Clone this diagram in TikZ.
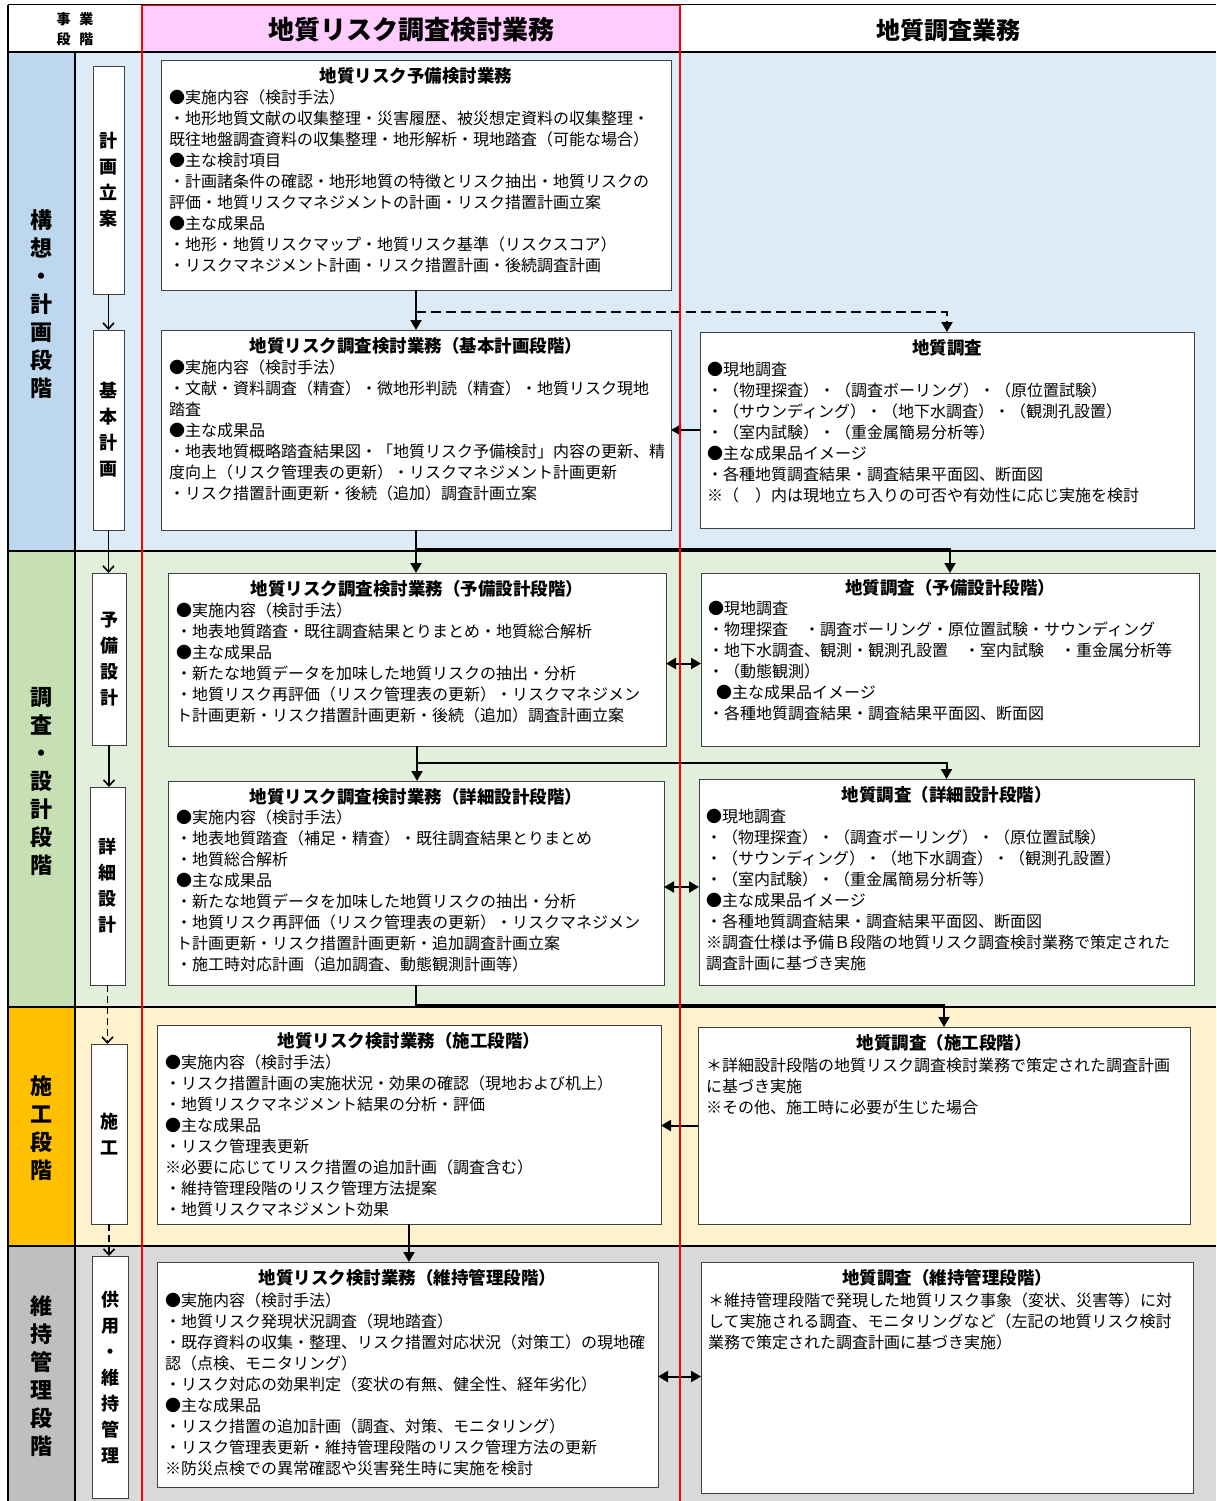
\documentclass[tikz,border=0pt]{standalone}
\usepackage{fontspec}
\setmainfont{Noto Sans CJK JP}
\usetikzlibrary{arrows.meta,calc}
\definecolor{pinkh}{HTML}{FFCCFF}
\definecolor{blueL}{HTML}{BDD7EE}
\definecolor{blueA}{HTML}{DDEBF7}
\definecolor{greenL}{HTML}{C6E0B4}
\definecolor{greenA}{HTML}{E2EFDA}
\definecolor{orangeL}{HTML}{FFC000}
\definecolor{orangeA}{HTML}{FFF2CC}
\definecolor{greyL}{HTML}{BFBFBF}
\definecolor{greyA}{HTML}{D9D9D9}
\definecolor{boxline}{HTML}{404040}
\tikzset{
  box/.style={draw=boxline, fill=white, line width=0.9pt, anchor=north west, inner sep=0pt, outer sep=0pt},
  sbox/.style={draw=boxline, fill=white, line width=0.9pt, anchor=north west, inner sep=0pt, outer sep=0pt},
  ttl/.style={font=\bfseries\fontsize{17.5}{21}\selectfont, inner sep=0pt, anchor=center},
  body/.style={font=\fontsize{16}{21}\selectfont, align=left, anchor=north west, inner sep=0pt},
  rowlbl/.style={font=\bfseries\fontsize{22}{28}\selectfont, align=center, inner sep=0pt},
  sublbl/.style={font=\bfseries\fontsize{18}{26}\selectfont, align=center, inner sep=0pt},
  arr/.style={line width=2pt, -{Triangle[length=10pt,width=11pt]}},
  dbl/.style={line width=2pt, {Triangle[length=10pt,width=11pt]}-{Triangle[length=10pt,width=11pt]}},
  darr/.style={line width=2.2pt, dash pattern=on 10pt off 5pt, -{Triangle[length=10pt,width=11pt]}},
  sarr/.style={line width=1.6pt, -{Straight Barb[length=6pt,width=11pt]}},
  sdarr/.style={line width=1.6pt, dash pattern=on 7pt off 4pt, -{Straight Barb[length=6pt,width=11pt]}},
  rowline/.style={line width=2.5pt, black},
  redline/.style={line width=1.5pt, red}
}
\begin{document}
\begin{tikzpicture}[x=1pt,y=-1pt]
\useasboundingbox (0,0) rectangle (1216,1501);
\fill[white] (0,0) rectangle (1216,1501);
% row fills
\fill[blueA] (75,52) rectangle (1216,551);
\fill[blueL] (8,52) rectangle (75,551);
\fill[greenA] (75,551) rectangle (1216,1007);
\fill[greenL] (8,551) rectangle (75,1007);
\fill[orangeA] (75,1007) rectangle (1216,1246);
\fill[orangeL] (8,1007) rectangle (75,1246);
\fill[greyA] (75,1246) rectangle (1216,1501);
\fill[greyL] (8,1246) rectangle (75,1501);
% header
\fill[pinkh] (142,5) rectangle (680,52);
\node[font=\bfseries\fontsize{14}{20}\selectfont, align=center, inner sep=0pt] (hdr0) at (75,29) {事\hspace{9pt}業\\段\hspace{9pt}階};
\node[font=\bfseries\fontsize{26}{30}\selectfont, inner sep=0pt] (hdr1) at (411,30) {地質リスク調査検討業務};
\node[font=\bfseries\fontsize{24}{30}\selectfont, inner sep=0pt] (hdr2) at (948,30) {地質調査業務};
% grid lines
\draw[line width=1pt] (8,5) -- (1216,5);
\draw[rowline] (8,52) -- (1216,52);
\draw[rowline] (8,551) -- (1216,551);
\draw[rowline] (8,1007) -- (1216,1007);
\draw[rowline] (8,1246) -- (1216,1246);
\draw[line width=1.8pt] (75,52) -- (75,1501);
\draw[line width=1.8pt] (8,5) -- (8,1501);
% row labels
\node[rowlbl] (R1) at (41,304) {構\\想\\・\\計\\画\\段\\階};
\node[rowlbl] (R2) at (41,781) {調\\査\\・\\設\\計\\段\\階};
\node[rowlbl] (R3) at (41,1128) {施\\工\\段\\階};
\node[rowlbl] (R4) at (41,1376) {維\\持\\管\\理\\段\\階};
% sub-column boxes
\node[sbox, minimum width=31pt, minimum height=228pt] (S1) at (93,66) {};
\node[sbox, minimum width=31pt, minimum height=200pt] (S2) at (93,330) {};
\node[sbox, minimum width=34pt, minimum height=172pt] (S3) at (92,573) {};
\node[sbox, minimum width=35pt, minimum height=198pt] (S4) at (90,787) {};
\node[sbox, minimum width=36pt, minimum height=180pt] (S5) at (91,1044) {};
\node[sbox, minimum width=36pt, minimum height=242pt] (S6) at (92,1256) {};
\node[sublbl] (S1t) at (S1.center) {計\\画\\立\\案};
\node[sublbl] (S2t) at (S2.center) {基\\本\\計\\画};
\node[sublbl] (S3t) at (S3.center) {予\\備\\設\\計};
\node[sublbl] (S4t) at (S4.center) {詳\\細\\設\\計};
\node[sublbl] (S5t) at (S5.center) {施\\工};
\node[sublbl] (S6t) at (S6.center) {供\\用\\・\\維\\持\\管\\理};
\draw[sarr] (S1.south) -- (S1.south |- S2.north);
\draw[sarr] (S2.south) -- (S2.south |- S3.north);
\draw[sarr] (S3.south) -- (S3.south |- S4.north);
\draw[sdarr] (S4.south) -- (S4.south |- S5.north);
\draw[sdarr] (S5.south) -- (S5.south |- S6.north);
% main boxes
\node[box, minimum width=510pt, minimum height=230pt] (A1) at (161,60) {};
\node[box, minimum width=510pt, minimum height=200pt] (A2) at (161,330) {};
\node[box, minimum width=498pt, minimum height=173pt] (A3) at (168,573) {};
\node[box, minimum width=496pt, minimum height=204pt] (A4) at (168,781) {};
\node[box, minimum width=504pt, minimum height=199pt] (A5) at (157,1025) {};
\node[box, minimum width=501pt, minimum height=225pt] (A6) at (157,1262) {};
\node[box, minimum width=494pt, minimum height=196pt] (B2) at (700,332) {};
\node[box, minimum width=498pt, minimum height=173pt] (B3) at (701,573) {};
\node[box, minimum width=495pt, minimum height=206pt] (B4) at (699,779) {};
\node[box, minimum width=492pt, minimum height=197pt] (B5) at (698,1027) {};
\node[box, minimum width=492pt, minimum height=231pt] (B6) at (701,1262) {};
% titles
\node[ttl] (A1t) at ($(A1.north)+(0,16)$) {地質リスク予備検討業務};
\node[ttl] (A2t) at ($(A2.north)+(0,16)$) {地質リスク調査検討業務（基本計画段階）};
\node[ttl] (A3t) at ($(A3.north)+(0,15.5)$) {地質リスク調査検討業務（予備設計段階）};
\node[ttl] (A4t) at ($(A4.north)+(0,15.5)$) {地質リスク調査検討業務（詳細設計段階）};
\node[ttl] (A5t) at ($(A5.north)+(0,15.5)$) {地質リスク検討業務（施工段階）};
\node[ttl] (A6t) at ($(A6.north)+(0,16)$) {地質リスク検討業務（維持管理段階）};
\node[ttl] (B2t) at ($(B2.north)+(0,15.5)$) {地質調査};
\node[ttl] (B3t) at ($(B3.north)+(0,14.5)$) {地質調査（予備設計段階）};
\node[ttl] (B4t) at ($(B4.north)+(0,15.5)$) {地質調査（詳細設計段階）};
\node[ttl] (B5t) at ($(B5.north)+(0,16)$) {地質調査（施工段階）};
\node[ttl] (B6t) at ($(B6.north)+(0,16)$) {地質調査（維持管理段階）};
% bodies
\node[body] (A1b) at ($(A1.north west)+(8,30)$) {●実施内容（検討手法）\\
・地形地質文献の収集整理・災害履歴、被災想定資料の収集整理・\\
既往地盤調査資料の収集整理・地形解析・現地踏査（可能な場合）\\
●主な検討項目\\
・計画諸条件の確認・地形地質の特徴とリスク抽出・地質リスクの\\
評価・地質リスクマネジメントの計画・リスク措置計画立案\\
●主な成果品\\
・地形・地質リスクマップ・地質リスク基準（リスクスコア）\\
・リスクマネジメント計画・リスク措置計画・後続調査計画};
\node[body] (A2b) at ($(A2.north west)+(8,30)$) {●実施内容（検討手法）\\
・文献・資料調査（精査）・微地形判読（精査）・地質リスク現地\\
踏査\\
●主な成果品\\
・地表地質概略踏査結果図・「地質リスク予備検討」内容の更新、精\\
度向上（リスク管理表の更新）・リスクマネジメント計画更新\\
・リスク措置計画更新・後続（追加）調査計画立案};
\node[body] (A3b) at ($(A3.north west)+(8,30)$) {●実施内容（検討手法）\\
・地表地質踏査・既往調査結果とりまとめ・地質総合解析\\
●主な成果品\\
・新たな地質データを加味した地質リスクの抽出・分析\\
・地質リスク再評価（リスク管理表の更新）・リスクマネジメン\\
ト計画更新・リスク措置計画更新・後続（追加）調査計画立案};
\node[body] (A4b) at ($(A4.north west)+(8,29)$) {●実施内容（検討手法）\\
・地表地質踏査（補足・精査）・既往調査結果とりまとめ\\
・地質総合解析\\
●主な成果品\\
・新たな地質データを加味した地質リスクの抽出・分析\\
・地質リスク再評価（リスク管理表の更新）・リスクマネジメン\\
ト計画更新・リスク措置計画更新・追加調査計画立案\\
・施工時対応計画（追加調査、動態観測計画等）};
\node[body] (A5b) at ($(A5.north west)+(8,30)$) {●実施内容（検討手法）\\
・リスク措置計画の実施状況・効果の確認（現地および机上）\\
・地質リスクマネジメント結果の分析・評価\\
●主な成果品\\
・リスク管理表更新\\
※必要に応じてリスク措置の追加計画（調査含む）\\
・維持管理段階のリスク管理方法提案\\
・地質リスクマネジメント効果};
\node[body] (A6b) at ($(A6.north west)+(8,31)$) {●実施内容（検討手法）\\
・地質リスク発現状況調査（現地踏査）\\
・既存資料の収集・整理、リスク措置対応状況（対策工）の現地確\\
認（点検、モニタリング）\\
・リスク対応の効果判定（変状の有無、健全性、経年劣化）\\
●主な成果品\\
・リスク措置の追加計画（調査、対策、モニタリング）\\
・リスク管理表更新・維持管理段階のリスク管理方法の更新\\
※防災点検での異常確認や災害発生時に実施を検討};
\node[body] (B2b) at ($(B2.north west)+(7,30)$) {●現地調査\\
・（物理探査）・（調査ボーリング）・（原位置試験）\\
・（サウンディング）・（地下水調査）・（観測孔設置）\\
・（室内試験）・（重金属簡易分析等）\\
●主な成果品イメージ\\
・各種地質調査結果・調査結果平面図、断面図\\
※（　）内は現地立ち入りの可否や有効性に応じ実施を検討};
\node[body] (B3b) at ($(B3.north west)+(7,28)$) {●現地調査\\
・物理探査　・調査ボーリング・原位置試験・サウンディング\\
・地下水調査、観測・観測孔設置　・室内試験　・重金属分析等\\
・（動態観測）\\
\hspace{8pt}●主な成果品イメージ\\
・各種地質調査結果・調査結果平面図、断面図};
\node[body] (B4b) at ($(B4.north west)+(7,30)$) {●現地調査\\
・（物理探査）・（調査ボーリング）・（原位置試験）\\
・（サウンディング）・（地下水調査）・（観測孔設置）\\
・（室内試験）・（重金属簡易分析等）\\
●主な成果品イメージ\\
・各種地質調査結果・調査結果平面図、断面図\\
※調査仕様は予備Ｂ段階の地質リスク調査検討業務で策定された\\
調査計画に基づき実施};
\node[body] (B5b) at ($(B5.north west)+(8,31)$) {＊詳細設計段階の地質リスク調査検討業務で策定された調査計画\\
に基づき実施\\
※その他、施工時に必要が生じた場合};
\node[body] (B6b) at ($(B6.north west)+(7,31)$) {＊維持管理段階で発現した地質リスク事象（変状、災害等）に対\\
して実施される調査、モニタリングなど（左記の地質リスク検討\\
業務で策定された調査計画に基づき実施）};
% connectors
\coordinate (j1) at (416,312);
\coordinate (j2) at (416,549);
\coordinate (j3) at (416,763);
\coordinate (j4) at (416,1005);
\coordinate (d3) at ($(A3.east)+(0,4)$);
\coordinate (d4) at ($(A4.east)+(0,4)$);
\coordinate (d6) at ($(A6.east)+(0,2)$);
\draw[arr] (A1.south) -- (A2.north);
\draw[darr] (j1) -| (B2.north);
\draw[arr] (B2.west) -- (B2.west -| A2.east);
\draw[arr] (A2.south) -- (A2.south |- A3.north);
\draw[arr] (j2) -| (B3.north);
\draw[dbl] (d3) -- (d3 -| B3.west);
\draw[arr] (A3.south) -- (A3.south |- A4.north);
\draw[arr] (j3) -| (B4.north);
\draw[dbl] (d4) -- (d4 -| B4.west);
\draw[arr] (A4.south) -- (j4) -| (B5.north);
\draw[arr] (B5.west) -- (B5.west -| A5.east);
\draw[arr] (A5.south) -- (A5.south |- A6.north);
\draw[dbl] (d6) -- (d6 -| B6.west);
% red lines
\draw[redline] (142,5) -- (142,1501);
\draw[redline] (680,5) -- (680,1501);
\draw[redline] (142,5.5) -- (680,5.5);
\end{tikzpicture}
\end{document}
